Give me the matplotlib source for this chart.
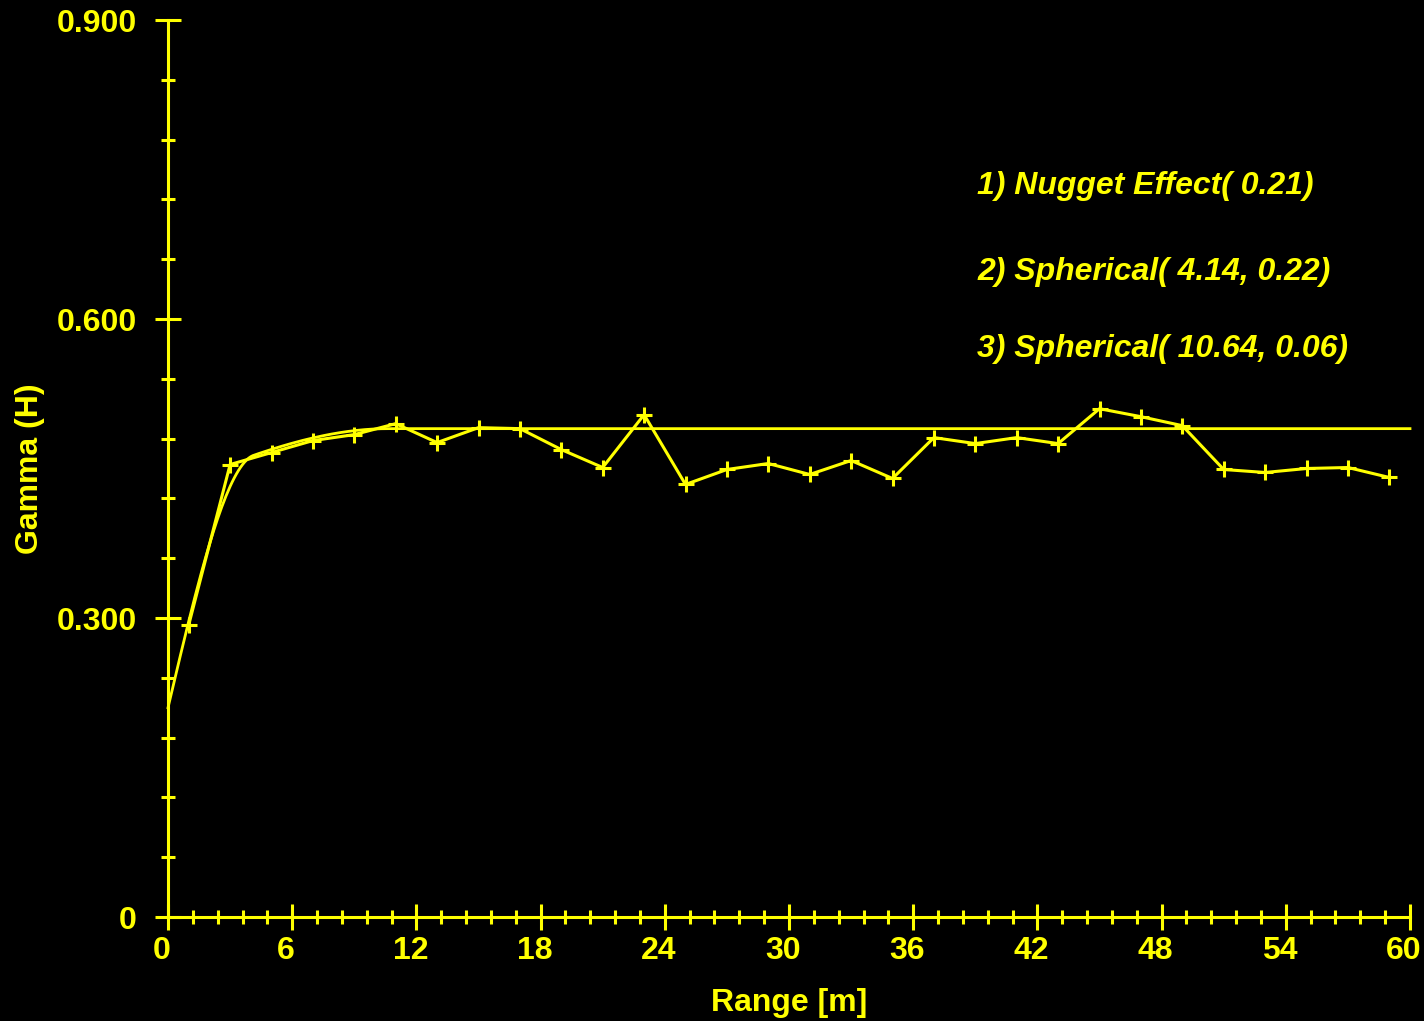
import numpy as np
import matplotlib.pyplot as plt
import matplotlib.ticker as ticker
import matplotlib.transforms as mtrans

# experimental variogram (lag distance, gamma)
lag = [1, 3, 5, 7, 9, 11, 13, 15, 17, 19, 21, 23, 25, 27, 29,
       31, 33, 35, 37, 39, 41, 43, 45, 47, 49, 51, 53, 55, 57, 59]
gamma = [0.293, 0.454, 0.466, 0.478, 0.484, 0.495, 0.476, 0.491, 0.490, 0.469,
         0.451, 0.504, 0.434, 0.449, 0.455, 0.444, 0.458, 0.440, 0.481, 0.475,
         0.481, 0.475, 0.510, 0.502, 0.493, 0.449, 0.446, 0.450, 0.451, 0.441]

# fitted model parameters, as listed on the chart
nugget = 0.21
sph_ranges = [4.14, 10.64]
sph_sills = [0.22, 0.06]
model_labels = ["1) Nugget Effect( 0.21)",
                "2) Spherical( 4.14, 0.22)",
                "3) Spherical( 10.64, 0.06)"]

YEL = "#FFFF00"
FS = 23
plt.rcParams['font.family'] = ['Liberation Sans', 'DejaVu Sans']


def spherical(h, a, c):
    """spherical variogram structure with range a and sill c"""
    r = np.clip(h / a, 0, 1)
    return c * (1.5 * r - 0.5 * r ** 3)


fig = plt.figure(figsize=(14.24, 10.21), dpi=100, facecolor='black')
ax = fig.add_axes([168 / 1424, 1 - 917 / 1021, 1242 / 1424, 897 / 1021])
ax.set_facecolor('black')

h = np.linspace(0, 60, 601)
model = nugget + sum(spherical(h, a, c) for a, c in zip(sph_ranges, sph_sills))
ax.plot(h, model, color=YEL, lw=2.0, clip_on=False)
ax.plot(lag, gamma, color=YEL, lw=2.2, marker='+', ms=11, mew=2.2)

ax.set_xlim(0, 60)
ax.set_ylim(0, 0.9)
for s in ['top', 'right']:
    ax.spines[s].set_visible(False)
for s in ['left', 'bottom']:
    ax.spines[s].set_color(YEL)
    ax.spines[s].set_linewidth(2.2)

ax.xaxis.set_major_locator(ticker.MultipleLocator(6))
ax.xaxis.set_minor_locator(ticker.MultipleLocator(1.2))
ax.yaxis.set_major_locator(ticker.MultipleLocator(0.3))
ax.yaxis.set_minor_locator(ticker.MultipleLocator(0.06))
ax.yaxis.set_major_formatter(ticker.FuncFormatter(
    lambda v, p: "0" if abs(v) < 1e-9 else f"{v:.3f}"))

ax.tick_params(which='major', direction='inout', length=19, width=2.2,
               color=YEL, labelcolor=YEL, labelsize=FS)
ax.tick_params(which='minor', direction='inout', length=10, width=2.2, color=YEL)
ax.tick_params(axis='x', which='major', pad=4)
ax.tick_params(axis='y', which='major', pad=13)
# x tick labels sit a little left of their ticks in the original
shift = mtrans.ScaledTranslation(-6 / 100, 0, fig.dpi_scale_trans)
for lbl in ax.get_xticklabels():
    lbl.set_transform(lbl.get_transform() + shift)
for lbl in ax.get_xticklabels() + ax.get_yticklabels():
    lbl.set_fontweight('bold')

ax.set_xlabel("Range [m]", color=YEL, fontsize=FS, fontweight='bold', labelpad=16)
ax.set_ylabel("Gamma (H)", color=YEL, fontsize=FS, fontweight='bold', labelpad=8)

for i, txt in enumerate(model_labels):
    ax.text(39.1, [0.733, 0.647, 0.570][i], txt, color=YEL, fontsize=FS,
            fontweight='bold', fontstyle='italic', va='center', ha='left')

fig.savefig("out.png", dpi=100, facecolor='black')
